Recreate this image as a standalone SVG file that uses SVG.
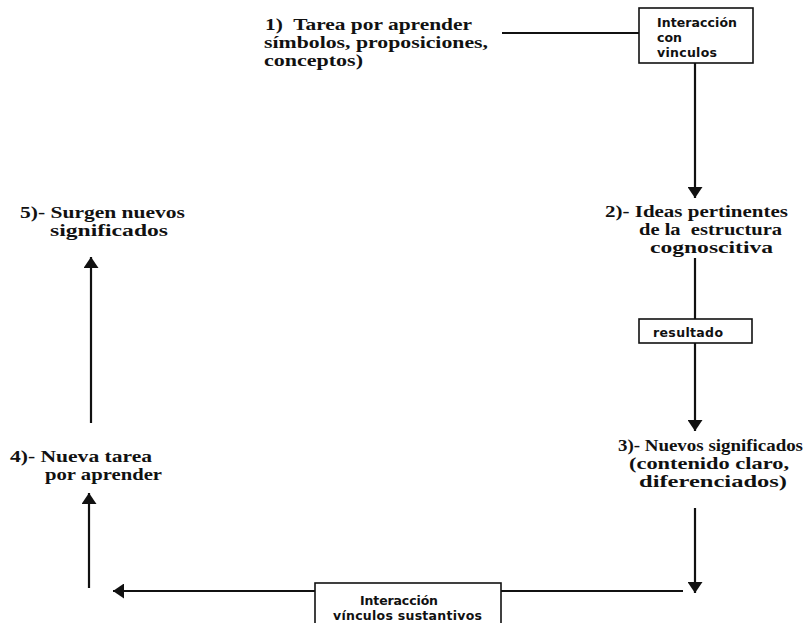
<svg xmlns="http://www.w3.org/2000/svg" width="807" height="623" viewBox="0 0 807 623">
<style>
.t{font-family:"Liberation Serif","Times New Roman",serif;font-weight:bold;font-size:16.3px;fill:#111}
.b{font-family:"DejaVu Sans","Verdana",sans-serif;font-weight:bold;font-size:12.5px;fill:#111}
.box{fill:#fff;stroke:#111;stroke-width:1.6}
.c{stroke:#111;stroke-width:2.2;fill:none}
</style>
<defs>
<marker id="ah" markerUnits="userSpaceOnUse" markerWidth="11" markerHeight="15" refX="11" refY="7.5" orient="auto">
<path d="M0,0 L11,7.5 L0,15 z" fill="#111"/>
</marker>
</defs>
<rect width="807" height="623" fill="#fff"/>
<g id="connectors">
<line class="c" x1="502" y1="33" x2="639" y2="33"/>
<line class="c" x1="695" y1="63" x2="695" y2="198" marker-end="url(#ah)"/>
<line class="c" x1="695" y1="258" x2="695" y2="319"/>
<line class="c" x1="695" y1="343" x2="695" y2="431" marker-end="url(#ah)"/>
<line class="c" x1="695" y1="508" x2="695" y2="593" marker-end="url(#ah)"/>
<line class="c" x1="683" y1="591" x2="501" y2="591"/>
<line class="c" x1="315" y1="591" x2="113" y2="591" marker-end="url(#ah)"/>
<line class="c" x1="89" y1="588" x2="89" y2="493" marker-end="url(#ah)"/>
<line class="c" x1="91" y1="423" x2="91" y2="257" marker-end="url(#ah)"/>
</g>
<g id="n1">
<text class="t" x="265" y="30" textLength="207" lengthAdjust="spacingAndGlyphs" xml:space="preserve">1)  Tarea por aprender</text>
<text class="t" x="264" y="48" textLength="224" lengthAdjust="spacingAndGlyphs">símbolos, proposiciones,</text>
<text class="t" x="264" y="66" textLength="99" lengthAdjust="spacingAndGlyphs">conceptos)</text>
</g>
<g id="box1">
<rect class="box" x="639" y="8" width="114" height="55"/>
<text class="b" x="657" y="27" textLength="80" lengthAdjust="spacing">Interacción</text>
<text class="b" x="657" y="42">con</text>
<text class="b" x="657" y="57" textLength="60" lengthAdjust="spacing">vinculos</text>
</g>
<g id="n2">
<text class="t" x="605" y="217" textLength="183" lengthAdjust="spacingAndGlyphs">2)- Ideas pertinentes</text>
<text class="t" x="639" y="235" textLength="143" lengthAdjust="spacingAndGlyphs" xml:space="preserve">de la  estructura</text>
<text class="t" x="650" y="253" textLength="123" lengthAdjust="spacingAndGlyphs">cognoscitiva</text>
</g>
<g id="box2">
<rect class="box" x="639" y="319" width="113" height="24"/>
<text class="b" x="653" y="337" textLength="70" lengthAdjust="spacing">resultado</text>
</g>
<g id="n3">
<text class="t" x="618" y="451" textLength="185" lengthAdjust="spacingAndGlyphs">3)- Nuevos significados</text>
<text class="t" x="629" y="469" textLength="160" lengthAdjust="spacingAndGlyphs">(contenido claro,</text>
<text class="t" x="639" y="487" textLength="148" lengthAdjust="spacingAndGlyphs">diferenciados)</text>
</g>
<g id="box3">
<rect class="box" x="315" y="583" width="186" height="50"/>
<text class="b" x="360" y="605" textLength="78" lengthAdjust="spacing">Interacción</text>
<text class="b" x="333" y="620" textLength="149" lengthAdjust="spacing">vínculos sustantivos</text>
</g>
<g id="n4">
<text class="t" x="10" y="462" textLength="142" lengthAdjust="spacingAndGlyphs">4)- Nueva tarea</text>
<text class="t" x="45" y="480" textLength="117" lengthAdjust="spacingAndGlyphs">por aprender</text>
</g>
<g id="n5">
<text class="t" x="20" y="218" textLength="165" lengthAdjust="spacingAndGlyphs">5)- Surgen nuevos</text>
<text class="t" x="50" y="236" textLength="118" lengthAdjust="spacingAndGlyphs">significados</text>
</g>
</svg>
